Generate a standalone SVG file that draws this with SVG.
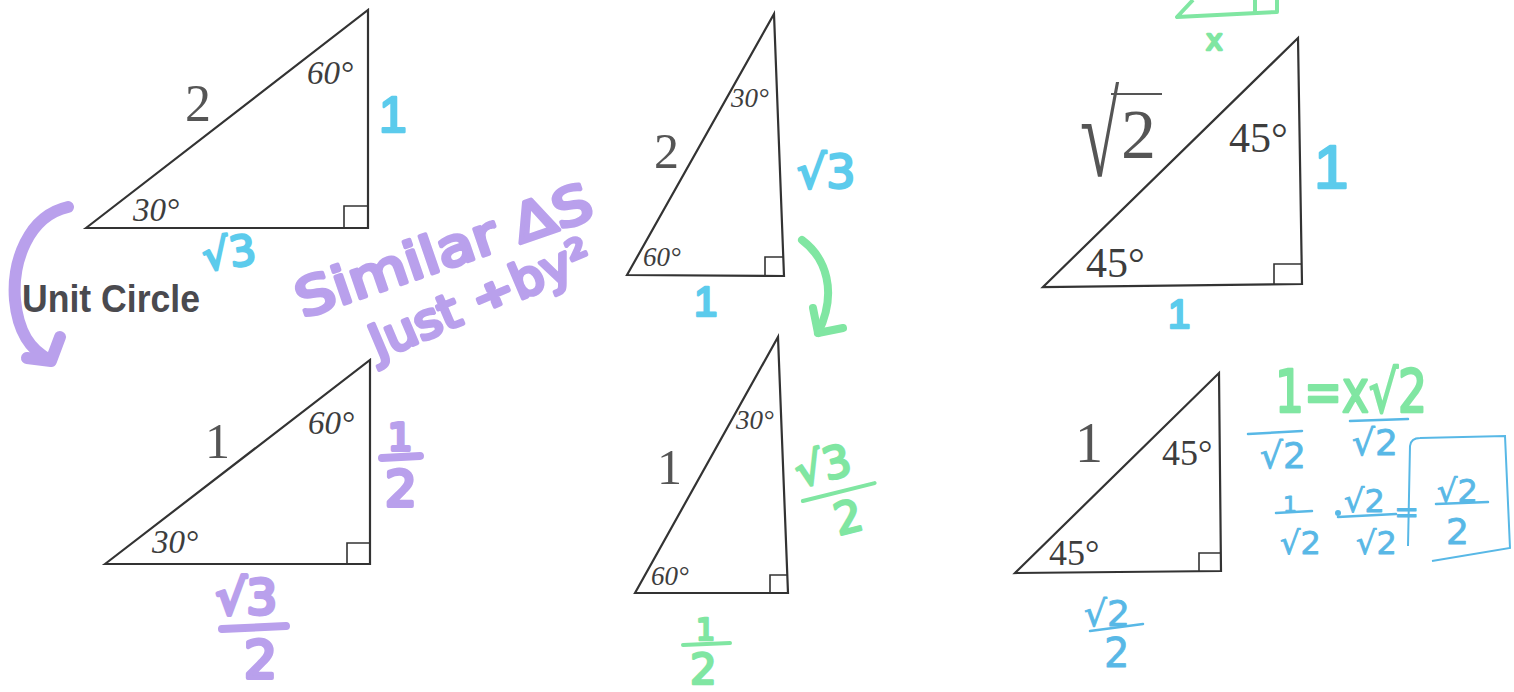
<svg xmlns="http://www.w3.org/2000/svg" width="1514" height="692" viewBox="0 0 1514 692">
<style>
.tri{fill:none;stroke:#333;stroke-width:2.2;stroke-linejoin:miter}
.sq{fill:none;stroke:#333;stroke-width:1.6}
.ang{font-family:"Liberation Serif",serif;font-style:italic;fill:#3d3d3d}
.deg{font-family:"Liberation Serif",serif;fill:#3d3d3d}
.side{font-family:"Liberation Serif",serif;fill:#555}
.hw{font-family:"DejaVu Sans",sans-serif;stroke-linejoin:round;stroke-linecap:round}
.one{font-family:"Liberation Sans",sans-serif;stroke-linejoin:round;stroke-linecap:round}
.pu{fill:#b9a0ec;stroke:#b9a0ec;stroke-width:4}
.cy{fill:#5ccbec;stroke:#5ccbec;stroke-width:2.5}
.gr{fill:#80e6a2;stroke:#80e6a2;stroke-width:2.5}
.pen{fill:#58b8e6;stroke:#58b8e6;stroke-width:0.8}
.barP{stroke:#b9a0ec;stroke-width:8;stroke-linecap:round;fill:none}
.barC{stroke:#58b8e6;stroke-width:2.5;stroke-linecap:round;fill:none}
.barG{stroke:#80e6a2;stroke-width:4;stroke-linecap:round;fill:none}
.unit{font-family:"Liberation Sans",sans-serif;font-weight:bold;fill:#4a4a4f}
</style>
<rect width="1514" height="692" fill="#ffffff"/>

<g id="tri-30-60-big">
  <polygon class="tri" points="86,228 368,10 368,228"/>
  <polyline class="sq" points="344,228 344,206 368,206"/>
  <text class="side" x="185" y="121" font-size="52">2</text>
  <text class="ang" x="307" y="84" font-size="33">60°</text>
  <text class="ang" x="133" y="221" font-size="33">30°</text>
  <text class="one cy" x="379" y="132" font-size="50" stroke-width="1.5">1</text>
  <text class="hw cy" x="202" y="268" font-size="42" transform="rotate(-8 225 250)">√3</text>
</g>

<g id="unit-circle-label">
  <text class="unit" x="22" y="312" font-size="38" textLength="178" lengthAdjust="spacingAndGlyphs">Unit Circle</text>
</g>

<g id="tri-30-60-unit">
  <polygon class="tri" points="105,564 370,360 370,564"/>
  <polyline class="sq" points="347,564 347,543 370,543"/>
  <text class="side" x="205" y="458" font-size="50">1</text>
  <text class="ang" x="308" y="434" font-size="33">60°</text>
  <text class="ang" x="152" y="553" font-size="33">30°</text>
  <text class="hw pu" x="388" y="450" font-size="38">1</text>
  <line class="barP" x1="382" y1="458" x2="420" y2="456"/>
  <text class="hw pu" x="385" y="506" font-size="50">2</text>
  <text class="hw pu" x="216" y="614" font-size="48">√3</text>
  <line class="barP" x1="222" y1="629" x2="286" y2="626"/>
  <text class="hw pu" x="244" y="678" font-size="52">2</text>
</g>

<g id="similar-note">
  <text class="hw pu" font-size="52" transform="translate(303,318) rotate(-19)" textLength="310" lengthAdjust="spacingAndGlyphs">Similar ΔS</text>
  <text class="hw pu" font-size="48" transform="translate(378,360) rotate(-23)" textLength="236" lengthAdjust="spacingAndGlyphs">Just ÷by²</text>
</g>

<g id="tri-60-30-big">
  <polygon class="tri" points="627,275 774,14 784,276"/>
  <polyline class="sq" points="765,276 765,257 784,257"/>
  <text class="side" x="654" y="168" font-size="50">2</text>
  <text class="ang" x="731" y="107" font-size="27">30°</text>
  <text class="ang" x="643" y="266" font-size="27">60°</text>
  <text class="hw cy" x="797" y="188" font-size="46">√3</text>
  <text class="one cy" x="694" y="316" font-size="42" stroke-width="1.5">1</text>
</g>

<g id="tri-60-30-unit">
  <polygon class="tri" points="635,593 778,337 788,593"/>
  <polyline class="sq" points="770,593 770,575 788,575"/>
  <text class="side" x="657" y="484" font-size="50">1</text>
  <text class="ang" x="736" y="429" font-size="27">30°</text>
  <text class="ang" x="651" y="585" font-size="27">60°</text>
  <g transform="rotate(-14 838 485)">
    <text class="hw gr" x="800" y="478" font-size="44">√3</text>
    <line class="barG" x1="800" y1="492" x2="874" y2="492"/>
    <text class="hw gr" x="826" y="534" font-size="44">2</text>
  </g>
  <text class="hw gr" x="696" y="640" font-size="30">1</text>
  <line class="barG" x1="683" y1="645" x2="730" y2="643"/>
  <text class="hw gr" x="690" y="684" font-size="42">2</text>
</g>

<g id="tri-45-big">
  <polygon class="tri" points="1043,287 1298,38 1302,284"/>
  <polyline class="sq" points="1274,285 1274,264 1302,264"/>
  <text class="side" font-size="68" transform="translate(1080,176) scale(1.05,1.75)">√</text>
  <line x1="1111" y1="94" x2="1162" y2="94" stroke="#555" stroke-width="2"/>
  <text class="side" x="1121" y="158" font-size="70">2</text>
  <text class="deg" x="1229" y="152" font-size="42">45°</text>
  <text class="deg" x="1086" y="277" font-size="42">45°</text>
  <text class="one cy" x="1314" y="188" font-size="62" stroke-width="3">1</text>
  <text class="one cy" x="1168" y="328" font-size="40" stroke-width="1.5">1</text>
</g>

<g id="green-sketch">
  <polyline points="1193,0 1177,17 1277,12 1277,0" fill="none" stroke="#80e6a2" stroke-width="4" stroke-linejoin="round"/>
  <line x1="1255" y1="0" x2="1255" y2="12" stroke="#80e6a2" stroke-width="4"/>
  <text class="hw gr" x="1206" y="50" font-size="28" stroke-width="1.5">x</text>
</g>

<g id="tri-45-unit">
  <polygon class="tri" points="1015,573 1219,373 1221,571"/>
  <polyline class="sq" points="1199,571 1199,553 1221,553"/>
  <text class="side" x="1075" y="462" font-size="56">1</text>
  <text class="deg" x="1162" y="465" font-size="36">45°</text>
  <text class="deg" x="1049" y="565" font-size="36">45°</text>
  <text class="hw pen" x="1084" y="626" font-size="36">√2</text>
  <line class="barC" x1="1090" y1="631" x2="1143" y2="624"/>
  <text class="hw pen" x="1104" y="667" font-size="40">2</text>
</g>

<g id="work-45">
  <text class="hw gr" x="1275" y="412" font-size="58" textLength="152" lengthAdjust="spacingAndGlyphs" stroke-width="3">1=x√2</text>
  <line class="barC" x1="1248" y1="434" x2="1302" y2="431"/>
  <text class="hw pen" x="1260" y="468" font-size="36">√2</text>
  <line class="barC" x1="1350" y1="421" x2="1408" y2="419"/>
  <text class="hw pen" x="1352" y="455" font-size="36">√2</text>
  <text class="hw pen" x="1283" y="512" font-size="22">1</text>
  <line class="barC" x1="1276" y1="513" x2="1312" y2="511"/>
  <text class="hw pen" x="1280" y="554" font-size="32">√2</text>
  <circle cx="1338" cy="513" r="3" fill="#58b8e6"/>
  <text class="hw pen" x="1344" y="512" font-size="32">√2</text>
  <line class="barC" x1="1338" y1="517" x2="1396" y2="514"/>
  <text class="hw pen" x="1356" y="554" font-size="32">√2</text>
  <text class="hw pen" x="1394" y="522" font-size="30">=</text>
  <text class="hw pen" x="1437" y="502" font-size="32">√2</text>
  <line class="barC" x1="1436" y1="504" x2="1488" y2="502"/>
  <text class="hw pen" x="1446" y="544" font-size="36">2</text>
  <path d="M1408,546 L1410,446 Q1411,438 1420,438 L1505,436 L1510,548 L1432,561" fill="none" stroke="#58b8e6" stroke-width="2"/>
</g>

<g id="connectors" fill="none" stroke-linecap="round" stroke-linejoin="round">
  <path d="M68,207 C28,216 12,262 15,300 C18,332 30,350 50,360" stroke="#b9a0ec" stroke-width="12"/>
  <path d="M60,337 L51,361 L27,358" stroke="#b9a0ec" stroke-width="12"/>
  <path d="M802,240 C826,258 838,292 818,333" stroke="#80e6a2" stroke-width="8"/>
  <path d="M813,308 L818,333 L843,328" stroke="#80e6a2" stroke-width="8"/>
</g>
</svg>
